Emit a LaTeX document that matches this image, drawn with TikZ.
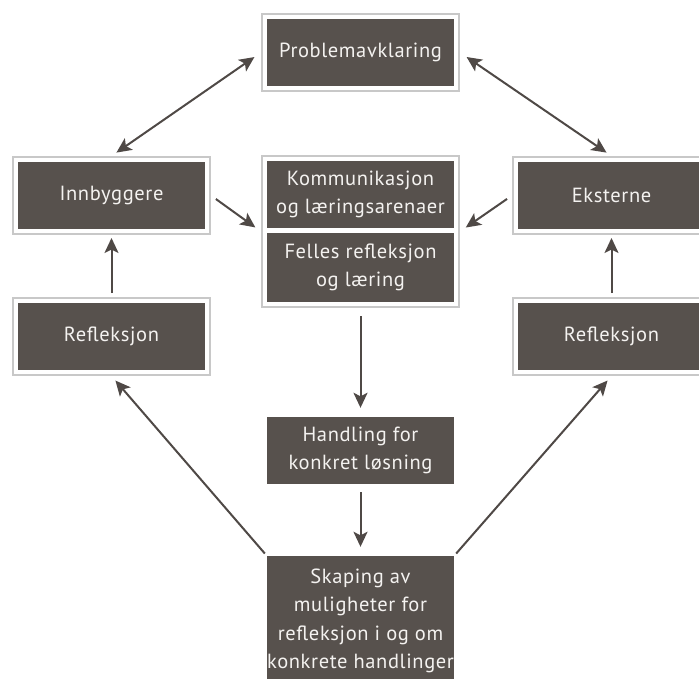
\documentclass[tikz,border=0pt]{standalone}
\usepackage{fontspec}
\setmainfont[LetterSpace=3]{PT Sans}
\usetikzlibrary{arrows.meta}
\definecolor{boxc}{HTML}{57514D}
\definecolor{framec}{HTML}{C8C8C8}
\definecolor{arrc}{HTML}{4F4946}
\definecolor{txtc}{HTML}{F4F2F0}
\begin{document}
\begin{tikzpicture}[x=1pt,y=-1pt,
  darkbox/.style={fill=boxc, text=txtc, minimum width=187pt, minimum height=67pt,
    inner sep=0pt, align=center, font=\fontsize{20.5}{28.5}\selectfont},
  framebox/.style={draw=framec, line width=2pt, minimum width=197pt, minimum height=77pt, inner sep=0pt},
  arr/.style={draw=arrc, line width=2pt, -{Stealth[length=15pt,width=14pt,inset=3.5pt]}},
  darr/.style={draw=arrc, line width=2pt, {Stealth[length=15pt,width=14pt,inset=3.5pt]}-{Stealth[length=15pt,width=14pt,inset=3.5pt]}}
]
\clip (0,0) rectangle (699,678);
\fill[white] (0,0) rectangle (699,678);

% frames
\node[framebox] (probF) at (360.5,52.5) {};
\node[framebox] (innF) at (111.5,195.5) {};
\node[framebox] (refLF) at (111.5,336.5) {};
\node[framebox] (ekF) at (611.5,195.5) {};
\node[framebox] (refRF) at (611.5,336.5) {};
\node[framebox, minimum height=151pt] (cenF) at (360.5,231.5) {};

% dark boxes
\node[darkbox] (prob) at (360.5,52.5) {Problemavklaring};
\node[darkbox] (inn) at (111.5,195.5) {Innbyggere};
\node[darkbox] (refL) at (111.5,336.5) {Refleksjon};
\node[darkbox] (ek) at (611.5,195.5) {Eksterne};
\node[darkbox] (refR) at (611.5,336.5) {Refleksjon};
\node[darkbox] (kom) at (360.5,194.5) {Kommunikasjon\\og læringsarenaer};
\node[darkbox, minimum height=69pt] (fel) at (360.5,267.5) {Felles refleksjon\\og læring};
\node[darkbox] (hand) at (360.5,450.5) {Handling for\\konkret løsning};
\node[darkbox, minimum height=130pt] (skap) at (360.5,621) {Skaping av\\muligheter for\\refleksjon i og om\\konkrete handlinger};

% connectors
\draw[darr, shorten <=6pt, shorten >=8pt] (innF.north) -- (probF.west);
\draw[darr, shorten <=8pt, shorten >=6pt] (probF.east) -- (ekF.north);
\draw[arr, shorten <=6pt, shorten >=7pt] (innF.east) -- (cenF.west);
\draw[arr, shorten <=6pt, shorten >=7pt] (ekF.west) -- (cenF.east);
\draw[arr, shorten <=4pt, shorten >=3pt] (refLF.north) -- (innF.south);
\draw[arr, shorten <=4pt, shorten >=3pt] (refRF.north) -- (ekF.south);
\draw[arr, shorten <=8pt, shorten >=9pt] (cenF.south) -- (hand.north);
\draw[arr, shorten <=8pt, shorten >=9pt] (hand.south) -- (skap.north);
\draw[arr, shorten <=3pt, shorten >=6pt] (skap.north west) -- (refLF.south);
\draw[arr, shorten <=3pt, shorten >=6pt] (skap.north east) -- (refRF.south);
\end{tikzpicture}
\end{document}
